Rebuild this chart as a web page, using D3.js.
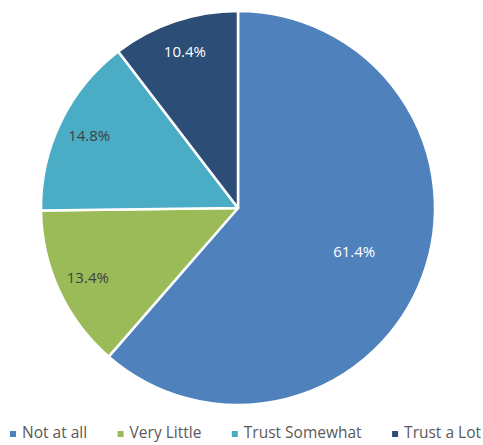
<!DOCTYPE html>
<html>
<head>
<meta charset="utf-8">
<script src="https://cdn.jsdelivr.net/npm/d3@7"></script>
<style>
  body { margin: 0; background: #fff; }
  text { font-family: "Open Sans", "DejaVu Sans", sans-serif; }
</style>
</head>
<body>
<script>
const width = 483;
const height = 445;

const categories = ["Not at all", "Very Little", "Trust Somewhat", "Trust a Lot"];
const values = [61.4, 13.4, 14.8, 10.4];
const colors = ["#4F81BD", "#9BBB59", "#4BACC6", "#2C4D75"];
const labelColors = ["#ffffff", "#404040", "#404040", "#ffffff"];

const cx = 238;
const cy = 208;
const radius = 197;

const svg = d3.select("body")
	.append("svg")
	.attr("width", width)
	.attr("height", height);

const data = categories.map(function (c, i) {
	return { name: c, value: values[i], color: colors[i], label: labelColors[i] };
});

const pie = d3.pie()
	.sort(null)
	.value(function (d) { return d.value; });

const arcs = pie(data);

const arc = d3.arc()
	.innerRadius(0)
	.outerRadius(radius);

const g = svg.append("g")
	.attr("transform", "translate(" + cx + "," + cy + ")");

g.selectAll("path")
	.data(arcs)
	.enter()
	.append("path")
	.attr("d", arc)
	.attr("fill", function (d) { return d.data.color; })
	.attr("stroke", "#fff")
	.attr("stroke-width", 2.5)
	.attr("stroke-linejoin", "round");

// label radius: big slice nearer the centre, small ones towards the rim
g.selectAll("text.lbl")
	.data(arcs)
	.enter()
	.append("text")
	.attr("class", "lbl")
	.attr("transform", function (d) {
		const r = d.data.value > 50 ? radius * 0.63 : radius * 0.84;
		const c = d3.arc().innerRadius(r).outerRadius(r).centroid(d);
		return "translate(" + c[0] + "," + c[1] + ")";
	})
	.attr("text-anchor", "middle")
	.attr("dy", "0.35em")
	.attr("font-size", "15px")
	.attr("fill", function (d) { return d.data.label; })
	.text(function (d) { return d.data.value.toFixed(1) + "%"; });

// legend, spread between x=10 and x=481
const legend = svg.append("g")
	.attr("transform", "translate(0,433)");

const items = legend.selectAll("g")
	.data(data)
	.enter()
	.append("g");

items.append("rect")
	.attr("width", 6)
	.attr("height", 6)
	.attr("y", -2)
	.attr("fill", function (d) { return d.color; });

items.append("text")
	.attr("x", 12)
	.attr("dy", "0.35em")
	.attr("font-size", "15.5px")
	.attr("fill", "#595959")
	.text(function (d) { return d.name; });

const widths = [];
items.each(function () {
	widths.push(12 + this.querySelector("text").getComputedTextLength());
});
const gap = (471 - d3.sum(widths)) / (widths.length - 1);
let pos = 10;
items.attr("transform", function (d, i) {
	const p = pos;
	pos += widths[i] + gap;
	return "translate(" + p + ",0)";
});
</script>
</body>
</html>
